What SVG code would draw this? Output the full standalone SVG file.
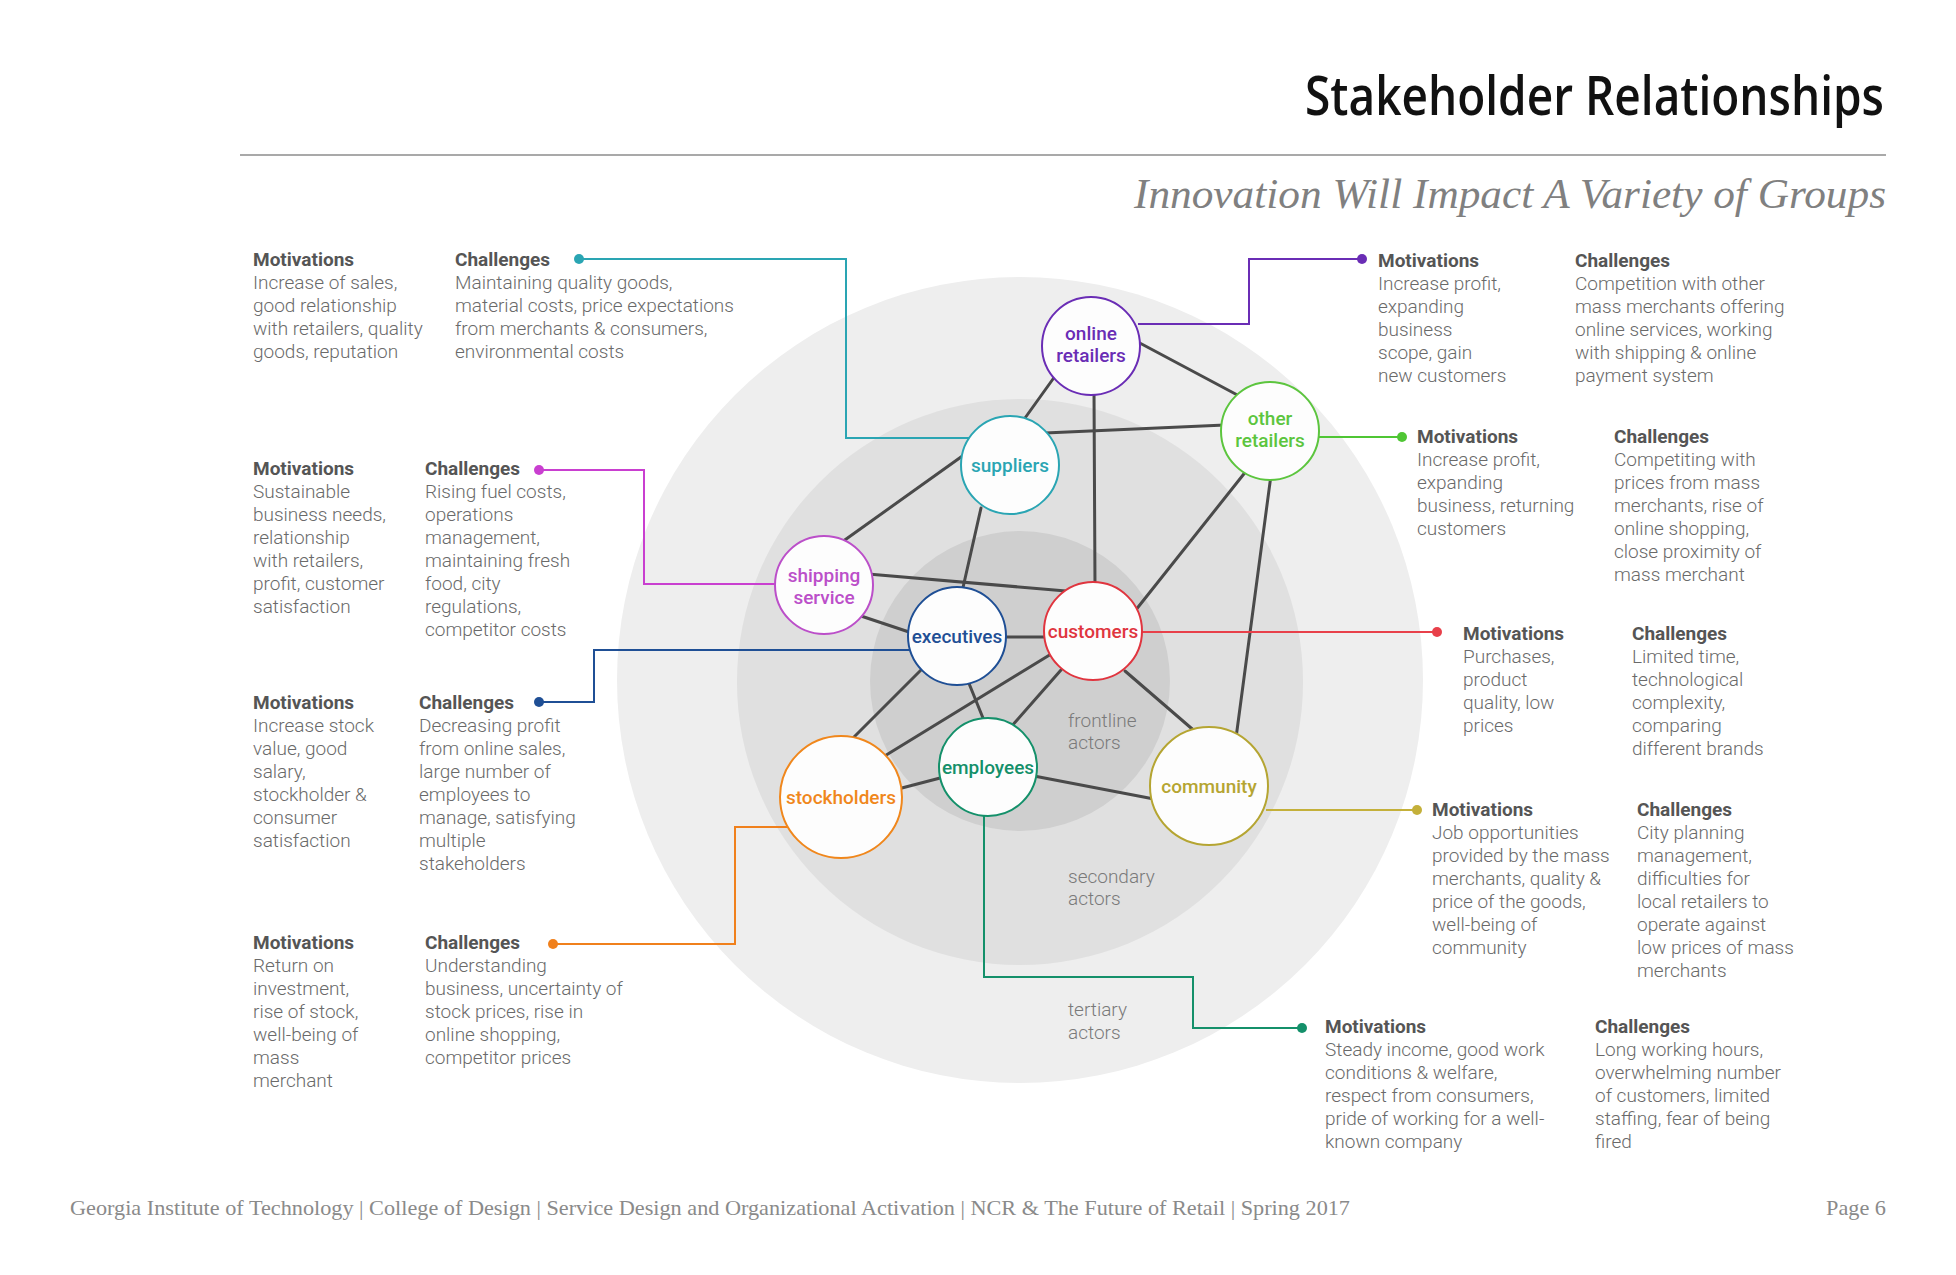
<svg xmlns="http://www.w3.org/2000/svg" width="1956" height="1275" viewBox="0 0 1956 1275">
  <style>
    .title { font-family: "Open Sans", "Noto Sans", sans-serif; font-size: 55px; font-weight: 600; fill: #111; }
    .subtitle { font-family: "Liberation Serif", serif; font-style: italic; font-size: 42px; fill: #808080; }
    .footer { font-family: "Liberation Serif", serif; font-size: 21px; fill: #8a8a8a; }
    .ring { font-family: Roboto, "Liberation Sans", sans-serif; font-weight: 300; font-size: 19px; fill: #7a7a7a; }
    .hd { font-family: Roboto, "Liberation Sans", sans-serif; font-weight: 700; font-size: 19px; fill: #555; }
    .bd { font-family: Roboto, "Liberation Sans", sans-serif; font-weight: 300; font-size: 19px; fill: #6a6a6a; }
    .node circle { fill: #fdfdfd; stroke-width: 2; }
    .node text { font-family: Roboto, "Liberation Sans", sans-serif; font-weight: 500; font-size: 19px; text-anchor: middle; }
    .edge { stroke: #4a4a4a; stroke-width: 3; fill: none; stroke-linecap: round; }
    .call { fill: none; stroke-width: 2; }
  </style>

  <!-- heading -->
  <text class="title" x="1884" y="115" text-anchor="end" textLength="579" lengthAdjust="spacingAndGlyphs">Stakeholder Relationships</text>
  <line x1="240" y1="155" x2="1886" y2="155" stroke="#8c8c8c" stroke-width="1.5"/>
  <text class="subtitle" x="1886" y="208" text-anchor="end" textLength="752" lengthAdjust="spacingAndGlyphs">Innovation Will Impact A Variety of Groups</text>

  <!-- actor rings -->
  <g id="rings">
    <circle cx="1020" cy="680" r="403" fill="#eeeeee"/>
    <circle cx="1020" cy="682" r="283" fill="#e0e0e0"/>
    <circle cx="1020" cy="681" r="150" fill="#cfcfcf"/>
    <text class="ring" x="1068" y="727">frontline</text>
    <text class="ring" x="1068" y="749">actors</text>
    <text class="ring" x="1068" y="883">secondary</text>
    <text class="ring" x="1068" y="905">actors</text>
    <text class="ring" x="1068" y="1016">tertiary</text>
    <text class="ring" x="1068" y="1039">actors</text>
  </g>

  <!-- connectors -->
  <g id="connectors">
    <g id="relations">
      <line class="edge" x1="1058" y1="372" x2="1020" y2="425"/>
      <line class="edge" x1="1136" y1="341" x2="1243" y2="398"/>
      <line class="edge" x1="1094" y1="390" x2="1095" y2="588"/>
      <line class="edge" x1="1045" y1="433" x2="1225" y2="425"/>
      <line class="edge" x1="842" y1="542" x2="968" y2="452"/>
      <line class="edge" x1="981" y1="508" x2="962" y2="592"/>
      <line class="edge" x1="1247" y1="470" x2="1135" y2="611"/>
      <line class="edge" x1="1271" y1="475" x2="1236" y2="738"/>
      <line class="edge" x1="868" y1="574" x2="1066" y2="591"/>
      <line class="edge" x1="858" y1="615" x2="912" y2="633"/>
      <line class="edge" x1="1003" y1="637" x2="1047" y2="637"/>
      <line class="edge" x1="924" y1="667" x2="848" y2="743"/>
      <line class="edge" x1="968" y1="681" x2="985" y2="723"/>
      <line class="edge" x1="1061" y1="648" x2="883" y2="757"/>
      <line class="edge" x1="1061" y1="670" x2="1010" y2="728"/>
      <line class="edge" x1="1125" y1="671" x2="1198" y2="734"/>
      <line class="edge" x1="944" y1="777" x2="898" y2="789"/>
      <line class="edge" x1="1034" y1="776" x2="1154" y2="799"/>
    </g>
    <g id="callouts">
      <polyline class="call" stroke="#2aa5b3" points="579,259 846,259 846,438 969,438"/>
      <circle cx="579" cy="259" r="5" fill="#2aa5b3"/>
      <polyline class="call" stroke="#6a2db5" points="1138,324 1249,324 1249,259 1362,259"/>
      <circle cx="1362" cy="259" r="5" fill="#6a2db5"/>
      <polyline class="call" stroke="#4fc634" points="1319,437 1402,437"/>
      <circle cx="1402" cy="437" r="5" fill="#4fc634"/>
      <polyline class="call" stroke="#c93fd0" points="539,470 644,470 644,584 775,584"/>
      <circle cx="539" cy="470" r="5" fill="#c93fd0"/>
      <polyline class="call" stroke="#1f4f95" points="539,702 594,702 594,650 910,650"/>
      <circle cx="539" cy="702" r="5" fill="#1f4f95"/>
      <polyline class="call" stroke="#e8404a" stroke-width="1.5" points="1142,632 1437,632"/>
      <circle cx="1437" cy="632" r="5" fill="#e8404a"/>
      <polyline class="call" stroke="#f0801c" points="553,944 735,944 735,827 788,827"/>
      <circle cx="553" cy="944" r="5" fill="#f0801c"/>
      <polyline class="call" stroke="#c4b03a" points="1266,810 1417,810"/>
      <circle cx="1417" cy="810" r="5" fill="#c4b03a"/>
      <polyline class="call" stroke="#14906a" points="984,816 984,977 1193,977 1193,1028 1302,1028"/>
      <circle cx="1302" cy="1028" r="5" fill="#14906a"/>
    </g>
  </g>

  <!-- stakeholder nodes -->
  <g id="online-retailers" class="node">
    <circle cx="1091" cy="346" r="49" stroke="#6a2db5"/>
    <text x="1091" y="340" fill="#6a2db5">online</text>
    <text x="1091" y="362" fill="#6a2db5">retailers</text>
  </g>
  <g id="other-retailers" class="node">
    <circle cx="1270" cy="431" r="49" stroke="#5cc53e"/>
    <text x="1270" y="425" fill="#5cc53e">other</text>
    <text x="1270" y="447" fill="#5cc53e">retailers</text>
  </g>
  <g id="suppliers" class="node">
    <circle cx="1010" cy="465" r="49" stroke="#2aa5b3"/>
    <text x="1010" y="472" fill="#2aa5b3">suppliers</text>
  </g>
  <g id="shipping-service" class="node">
    <circle cx="824" cy="585" r="49" stroke="#bb4fc9"/>
    <text x="824" y="582" fill="#bb4fc9">shipping</text>
    <text x="824" y="604" fill="#bb4fc9">service</text>
  </g>
  <g id="executives" class="node">
    <circle cx="957" cy="636" r="49" stroke="#1f4f95"/>
    <text x="957" y="643" fill="#1f4f95">executives</text>
  </g>
  <g id="customers" class="node">
    <circle cx="1093" cy="631" r="49" stroke="#e0353f"/>
    <text x="1093" y="638" fill="#e0353f">customers</text>
  </g>
  <g id="employees" class="node">
    <circle cx="988" cy="767" r="49" stroke="#14906a"/>
    <text x="988" y="774" fill="#14906a">employees</text>
  </g>
  <g id="stockholders" class="node">
    <circle cx="841" cy="797" r="61" stroke="#f0871c"/>
    <text x="841" y="804" fill="#f0871c">stockholders</text>
  </g>
  <g id="community" class="node">
    <circle cx="1209" cy="786" r="59" stroke="#b5a532"/>
    <text x="1209" y="793" fill="#b5a532">community</text>
  </g>

  <!-- motivations and challenges -->
  <g id="notes-suppliers">
    <text class="hd" x="253" y="266">Motivations</text>
    <text class="bd" x="253" y="289"><tspan x="253">Increase of sales,</tspan><tspan x="253" dy="23">good relationship</tspan><tspan x="253" dy="23">with retailers, quality</tspan><tspan x="253" dy="23">goods, reputation</tspan></text>
    <text class="hd" x="455" y="266">Challenges</text>
    <text class="bd" x="455" y="289"><tspan x="455">Maintaining quality goods,</tspan><tspan x="455" dy="23">material costs, price expectations</tspan><tspan x="455" dy="23">from merchants &amp; consumers,</tspan><tspan x="455" dy="23">environmental costs</tspan></text>
  </g>
  <g id="notes-shipping">
    <text class="hd" x="253" y="475">Motivations</text>
    <text class="bd" x="253" y="498"><tspan x="253">Sustainable</tspan><tspan x="253" dy="23">business needs,</tspan><tspan x="253" dy="23">relationship</tspan><tspan x="253" dy="23">with retailers,</tspan><tspan x="253" dy="23">profit, customer</tspan><tspan x="253" dy="23">satisfaction</tspan></text>
    <text class="hd" x="425" y="475">Challenges</text>
    <text class="bd" x="425" y="498"><tspan x="425">Rising fuel costs,</tspan><tspan x="425" dy="23">operations</tspan><tspan x="425" dy="23">management,</tspan><tspan x="425" dy="23">maintaining fresh</tspan><tspan x="425" dy="23">food, city</tspan><tspan x="425" dy="23">regulations,</tspan><tspan x="425" dy="23">competitor costs</tspan></text>
  </g>
  <g id="notes-executives">
    <text class="hd" x="253" y="709">Motivations</text>
    <text class="bd" x="253" y="732"><tspan x="253">Increase stock</tspan><tspan x="253" dy="23">value, good</tspan><tspan x="253" dy="23">salary,</tspan><tspan x="253" dy="23">stockholder &amp;</tspan><tspan x="253" dy="23">consumer</tspan><tspan x="253" dy="23">satisfaction</tspan></text>
    <text class="hd" x="419" y="709">Challenges</text>
    <text class="bd" x="419" y="732"><tspan x="419">Decreasing profit</tspan><tspan x="419" dy="23">from online sales,</tspan><tspan x="419" dy="23">large number of</tspan><tspan x="419" dy="23">employees to</tspan><tspan x="419" dy="23">manage, satisfying</tspan><tspan x="419" dy="23">multiple</tspan><tspan x="419" dy="23">stakeholders</tspan></text>
  </g>
  <g id="notes-stockholders">
    <text class="hd" x="253" y="949">Motivations</text>
    <text class="bd" x="253" y="972"><tspan x="253">Return on</tspan><tspan x="253" dy="23">investment,</tspan><tspan x="253" dy="23">rise of stock,</tspan><tspan x="253" dy="23">well-being of</tspan><tspan x="253" dy="23">mass</tspan><tspan x="253" dy="23">merchant</tspan></text>
    <text class="hd" x="425" y="949">Challenges</text>
    <text class="bd" x="425" y="972"><tspan x="425">Understanding</tspan><tspan x="425" dy="23">business, uncertainty of</tspan><tspan x="425" dy="23">stock prices, rise in</tspan><tspan x="425" dy="23">online shopping,</tspan><tspan x="425" dy="23">competitor prices</tspan></text>
  </g>
  <g id="notes-online-retailers">
    <text class="hd" x="1378" y="267">Motivations</text>
    <text class="bd" x="1378" y="290"><tspan x="1378">Increase profit,</tspan><tspan x="1378" dy="23">expanding</tspan><tspan x="1378" dy="23">business</tspan><tspan x="1378" dy="23">scope, gain</tspan><tspan x="1378" dy="23">new customers</tspan></text>
    <text class="hd" x="1575" y="267">Challenges</text>
    <text class="bd" x="1575" y="290"><tspan x="1575">Competition with other</tspan><tspan x="1575" dy="23">mass merchants offering</tspan><tspan x="1575" dy="23">online services, working</tspan><tspan x="1575" dy="23">with shipping &amp; online</tspan><tspan x="1575" dy="23">payment system</tspan></text>
  </g>
  <g id="notes-other-retailers">
    <text class="hd" x="1417" y="443">Motivations</text>
    <text class="bd" x="1417" y="466"><tspan x="1417">Increase profit,</tspan><tspan x="1417" dy="23">expanding</tspan><tspan x="1417" dy="23">business, returning</tspan><tspan x="1417" dy="23">customers</tspan></text>
    <text class="hd" x="1614" y="443">Challenges</text>
    <text class="bd" x="1614" y="466"><tspan x="1614">Competiting with</tspan><tspan x="1614" dy="23">prices from mass</tspan><tspan x="1614" dy="23">merchants, rise of</tspan><tspan x="1614" dy="23">online shopping,</tspan><tspan x="1614" dy="23">close proximity of</tspan><tspan x="1614" dy="23">mass merchant</tspan></text>
  </g>
  <g id="notes-customers">
    <text class="hd" x="1463" y="640">Motivations</text>
    <text class="bd" x="1463" y="663"><tspan x="1463">Purchases,</tspan><tspan x="1463" dy="23">product</tspan><tspan x="1463" dy="23">quality, low</tspan><tspan x="1463" dy="23">prices</tspan></text>
    <text class="hd" x="1632" y="640">Challenges</text>
    <text class="bd" x="1632" y="663"><tspan x="1632">Limited time,</tspan><tspan x="1632" dy="23">technological</tspan><tspan x="1632" dy="23">complexity,</tspan><tspan x="1632" dy="23">comparing</tspan><tspan x="1632" dy="23">different brands</tspan></text>
  </g>
  <g id="notes-community">
    <text class="hd" x="1432" y="816">Motivations</text>
    <text class="bd" x="1432" y="839"><tspan x="1432">Job opportunities</tspan><tspan x="1432" dy="23">provided by the mass</tspan><tspan x="1432" dy="23">merchants, quality &amp;</tspan><tspan x="1432" dy="23">price of the goods,</tspan><tspan x="1432" dy="23">well-being of</tspan><tspan x="1432" dy="23">community</tspan></text>
    <text class="hd" x="1637" y="816">Challenges</text>
    <text class="bd" x="1637" y="839"><tspan x="1637">City planning</tspan><tspan x="1637" dy="23">management,</tspan><tspan x="1637" dy="23">difficulties for</tspan><tspan x="1637" dy="23">local retailers to</tspan><tspan x="1637" dy="23">operate against</tspan><tspan x="1637" dy="23">low prices of mass</tspan><tspan x="1637" dy="23">merchants</tspan></text>
  </g>
  <g id="notes-employees">
    <text class="hd" x="1325" y="1033">Motivations</text>
    <text class="bd" x="1325" y="1056"><tspan x="1325">Steady income, good work</tspan><tspan x="1325" dy="23">conditions &amp; welfare,</tspan><tspan x="1325" dy="23">respect from consumers,</tspan><tspan x="1325" dy="23">pride of working for a well-</tspan><tspan x="1325" dy="23">known company</tspan></text>
    <text class="hd" x="1595" y="1033">Challenges</text>
    <text class="bd" x="1595" y="1056"><tspan x="1595">Long working hours,</tspan><tspan x="1595" dy="23">overwhelming number</tspan><tspan x="1595" dy="23">of customers, limited</tspan><tspan x="1595" dy="23">staffing, fear of being</tspan><tspan x="1595" dy="23">fired</tspan></text>
  </g>

  <!-- footer -->
  <text class="footer" x="70" y="1215" textLength="1280" lengthAdjust="spacingAndGlyphs">Georgia Institute of Technology | College of Design | Service Design and Organizational Activation | NCR &amp; The Future of Retail | Spring 2017</text>
  <text class="footer" x="1886" y="1215" text-anchor="end" textLength="60" lengthAdjust="spacingAndGlyphs">Page 6</text>
</svg>
